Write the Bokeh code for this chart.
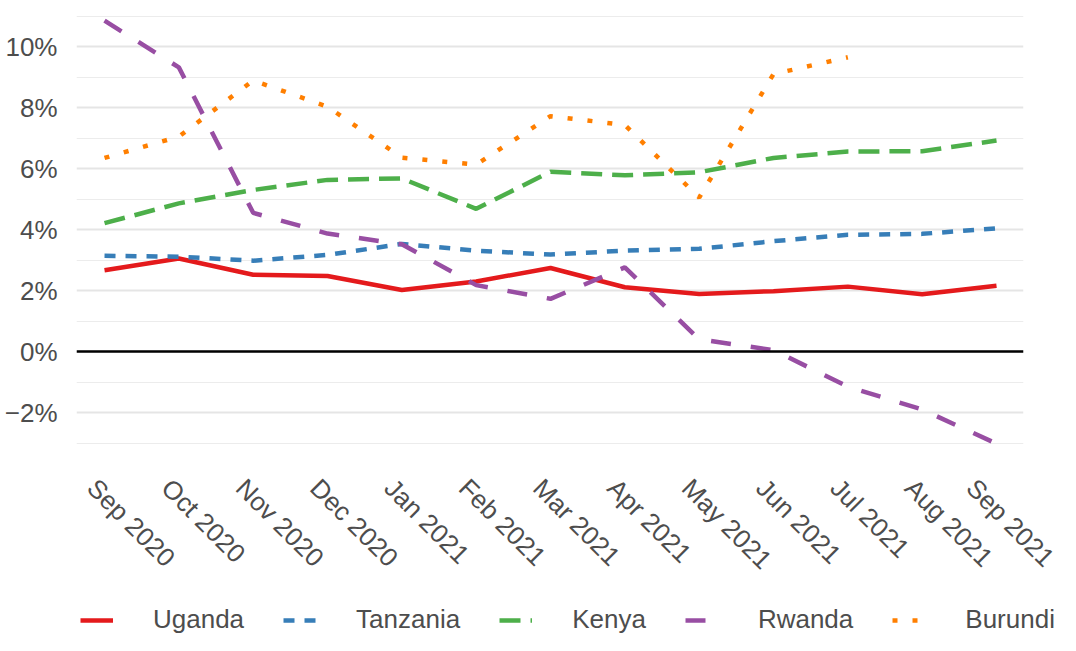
import math
import numpy as np
from bokeh.plotting import figure
from bokeh.layouts import column
from bokeh.models import FixedTicker, Span, Legend, LegendItem, Range1d
from bokeh.embed import file_html
from bokeh.resources import INLINE

months = ["Sep 2020", "Oct 2020", "Nov 2020", "Dec 2020", "Jan 2021", "Feb 2021",
          "Mar 2021", "Apr 2021", "May 2021", "Jun 2021", "Jul 2021", "Aug 2021", "Sep 2021"]

uganda = [2.67, 3.05, 2.52, 2.48, 2.02, 2.30, 2.74, 2.11, 1.89, 1.98, 2.13, 1.88, 2.16]
tanzania = [3.14, 3.11, 2.98, 3.17, 3.53, 3.31, 3.18, 3.31, 3.37, 3.62, 3.83, 3.86, 4.04]
kenya = [4.21, 4.86, 5.30, 5.63, 5.68, 4.68, 5.90, 5.78, 5.88, 6.35, 6.56, 6.57, 6.92]
rwanda = [10.85, 9.32, 4.55, 3.87, 3.52, 2.18, 1.73, 2.76, 0.40, 0.05, -1.15, -1.90, -3.02]
burundi = [6.35, 7.05, 8.89, 8.03, 6.36, 6.13, 7.72, 7.43, 5.05, 9.10, 9.65, None, None]

series_names = ["Uganda", "Tanzania", "Kenya", "Rwanda", "Burundi"]
series_values = [uganda, tanzania, kenya, rwanda, burundi]
colors = ["#E41A1C", "#377EB8", "#4DAF4A", "#984EA3", "#FF7F00"]
dashes = ["solid", "11 10", "21 10", "20 20", "5 15"]

y_major = [-2, 0, 2, 4, 6, 8, 10]
y_minor = [-3, -1, 1, 3, 5, 7, 9, 11]

FONT = "Liberation Sans"
TXT = "#4d4d4d"

X0, X1 = -0.377, 12.363
LAB_SHIFT = 0.17

p = figure(width=1060, height=600, output_backend="svg", toolbar_location=None,
           x_range=Range1d(X0, X1), y_range=Range1d(-3.67, 11.25),
           min_border_left=76, min_border_right=37, min_border_top=8,
           min_border_bottom=137)
p.outline_line_color = None
p.background_fill_color = "white"
p.frame_align = False
p.extra_x_ranges = {"lab": Range1d(X0 + LAB_SHIFT, X1 + LAB_SHIFT)}

x = list(range(len(months)))
series_y = [[np.nan if v is None else v for v in vals] for vals in series_values]
for yv, c, d in zip(series_y, colors, dashes):
    p.line(x, yv, line_color=c, line_width=4.5, line_dash=d, line_cap="butt")

p.add_layout(Span(location=0, dimension="width", line_color="black", line_width=2.5))

# axes
p.yaxis.ticker = FixedTicker(ticks=y_major, minor_ticks=y_minor)
p.yaxis.major_label_overrides = {t: (("\u2212" if t < 0 else "") + f"{abs(t)}%") for t in y_major}
xax = p.xaxis[0]
xax.x_range_name = "lab"
xax.ticker = FixedTicker(ticks=x)
xax.major_label_overrides = {i: m for i, m in enumerate(months)}
xax.major_label_orientation = -math.pi / 4

for ax in (p.xaxis, p.yaxis):
    ax.axis_line_color = None
    ax.major_tick_line_color = None
    ax.minor_tick_line_color = None
    ax.major_label_text_font = FONT
    ax.major_label_text_font_size = "26px"
    ax.major_label_text_color = TXT
p.yaxis.major_label_standoff = 13
p.xaxis.major_label_standoff = 14

p.xgrid.grid_line_color = None
p.ygrid.grid_line_color = "#e5e5e5"
p.ygrid.grid_line_width = 2
p.ygrid.minor_grid_line_color = "#ececec"
p.ygrid.minor_grid_line_width = 1.2

# legend strip (series drawn out of view; only the legend shows)
lg = figure(width=1060, height=35, output_backend="svg", toolbar_location=None,
            x_range=Range1d(X0, X1), y_range=Range1d(100, 101),
            x_axis_type=None, y_axis_type=None, min_border=0)
lg.outline_line_color = None
lg.frame_align = False
lg.xgrid.grid_line_color = None
lg.ygrid.grid_line_color = None
items = []
for name, yv, c, d in zip(series_names, series_y, colors, dashes):
    r = lg.line(x, yv, line_color=c, line_width=4.5, line_dash=d, line_cap="butt")
    items.append(LegendItem(label=name, renderers=[r]))
legend = Legend(items=items, orientation="horizontal", location=(80, 0),
                glyph_width=33, glyph_height=20, label_standoff=40, spacing=39,
                padding=0, margin=0, border_line_color=None, background_fill_alpha=0,
                label_text_font=FONT, label_text_font_size="26px", label_text_color=TXT)
lg.add_layout(legend, "center")

layout = column(p, lg, spacing=0)
open("out.html", "w").write(file_html(layout, INLINE))
